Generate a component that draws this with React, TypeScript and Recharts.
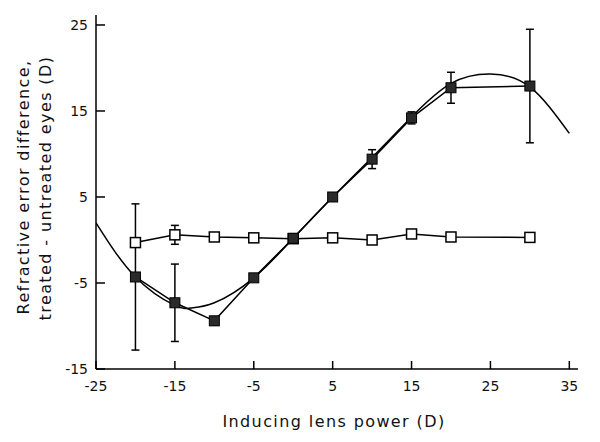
import React from 'react';
import { ComposedChart, Line, XAxis, YAxis, ErrorBar } from 'recharts';

const lensPower = [-20, -15, -10, -5, 0, 5, 10, 15, 20, 30];
const treated = [-4.3, -7.3, -9.4, -4.4, 0.2, 5.0, 9.4, 14.2, 17.7, 17.9];
const treatedErr = [8.5, 4.5, 0.5, 0, 0, 0, 1.1, 0.7, 1.8, 6.6];
const untreated = [-0.3, 0.6, 0.35, 0.25, 0.15, 0.25, 0.0, 0.7, 0.35, 0.3];
const untreatedErr = [0, 1.1, 0, 0, 0, 0, 0, 0.4, 0, 0.4];

const fitX = [-25, -20, -15, -13, -10, -5, 0, 5, 10, 15, 20, 25, 30, 35];
const fitY = [2.0, -4.3, -7.6, -7.9, -7.3, -4.4, 0.2, 5.0, 9.6, 14.3, 18.2, 19.3, 17.8, 12.4];

const xTicks = [-25, -15, -5, 5, 15, 25, 35];
const yTicks = [-15, -5, 5, 15, 25];

const pointData = lensPower.map((x, i) => ({
  x,
  treated: treated[i],
  tErr: treatedErr[i],
  untreated: untreated[i],
  uErr: untreatedErr[i],
}));
const fitData = fitX.map((x, i) => ({ x, fit: fitY[i] }));

const FONT = 'DejaVu Sans, sans-serif';

const YTick = (props: any) => {
  const { x, y, payload } = props;
  return (
    <g>
      <line x1={x} x2={x + 9} y1={y} y2={y} stroke="#000" strokeWidth={1.5} />
      <text x={x - 8} y={y} textAnchor="end" dominantBaseline="central" fontSize={14} fontFamily={FONT} fill="#111">
        {payload.value}
      </text>
    </g>
  );
};

const XTick = (props: any) => {
  const { x, y, payload } = props;
  return (
    <g>
      <line x1={x} x2={x} y1={y} y2={y - 8} stroke="#000" strokeWidth={1.5} />
      <text x={x} y={y + 17} textAnchor="middle" dominantBaseline="central" fontSize={14} fontFamily={FONT} fill="#111">
        {payload.value}
      </text>
    </g>
  );
};

const filledDot = (p: any) => (
  <rect key={`f${p.index}`} x={p.cx - 5} y={p.cy - 5} width={10} height={10} fill="#2a2a2a" stroke="#000" strokeWidth={1} />
);
const openDot = (p: any) => (
  <rect key={`o${p.index}`} x={p.cx - 5} y={p.cy - 5} width={10} height={10} fill="#fff" stroke="#000" strokeWidth={1.5} />
);

const YLabel = () => (
  <g>
    <text x={15} y={179} transform="rotate(-90 15 179)" textAnchor="middle" dominantBaseline="central" fontSize={16} letterSpacing={1.4} fontFamily={FONT} fill="#111">
      Refractive error difference,
    </text>
    <text x={37} y={180} transform="rotate(-90 37 180)" textAnchor="middle" dominantBaseline="central" fontSize={16} letterSpacing={1.4} fontFamily={FONT} fill="#111">
      treated - untreated eyes (D)
    </text>
  </g>
);

const XLabel = () => (
  <text x={326} y={413} textAnchor="middle" dominantBaseline="central" fontSize={16} letterSpacing={1.4} fontFamily={FONT} fill="#111">
    Inducing lens power (D)
  </text>
);

export default function App() {
  return (
    <ComposedChart width={592} height={434} margin={{ top: 7, right: 22, bottom: 43, left: 28 }}>
      <XAxis
        type="number"
        dataKey="x"
        domain={[-25, 36.1]}
        ticks={xTicks}
        allowDataOverflow
        tickLine={false}
        tickSize={0}
        tickMargin={0}
        height={30}
        tick={<XTick />}
        axisLine={{ stroke: '#000', strokeWidth: 1.5 }}
        label={{ content: () => <XLabel /> } as any}
      />
      <YAxis
        type="number"
        domain={[-15, 26.16]}
        ticks={yTicks}
        allowDataOverflow
        tickLine={false}
        tickSize={0}
        tickMargin={0}
        width={60}
        tick={<YTick />}
        axisLine={{ stroke: '#000', strokeWidth: 1.5 }}
        label={{ content: () => <YLabel /> } as any}
      />
      <Line
        data={fitData}
        dataKey="fit"
        type="natural"
        stroke="#000"
        strokeWidth={1.5}
        dot={false}
        activeDot={false}
        isAnimationActive={false}
      />
      <Line
        data={pointData}
        dataKey="untreated"
        type="linear"
        stroke="#000"
        strokeWidth={1.5}
        dot={openDot}
        activeDot={false}
        isAnimationActive={false}
      >
        <ErrorBar dataKey="uErr" width={4} stroke="#000" strokeWidth={1.5} direction="y" />
      </Line>
      <Line
        data={pointData}
        dataKey="treated"
        type="linear"
        stroke="#000"
        strokeWidth={1.5}
        dot={filledDot}
        activeDot={false}
        isAnimationActive={false}
      >
        <ErrorBar dataKey="tErr" width={4} stroke="#000" strokeWidth={1.5} direction="y" />
      </Line>
    </ComposedChart>
  );
}
